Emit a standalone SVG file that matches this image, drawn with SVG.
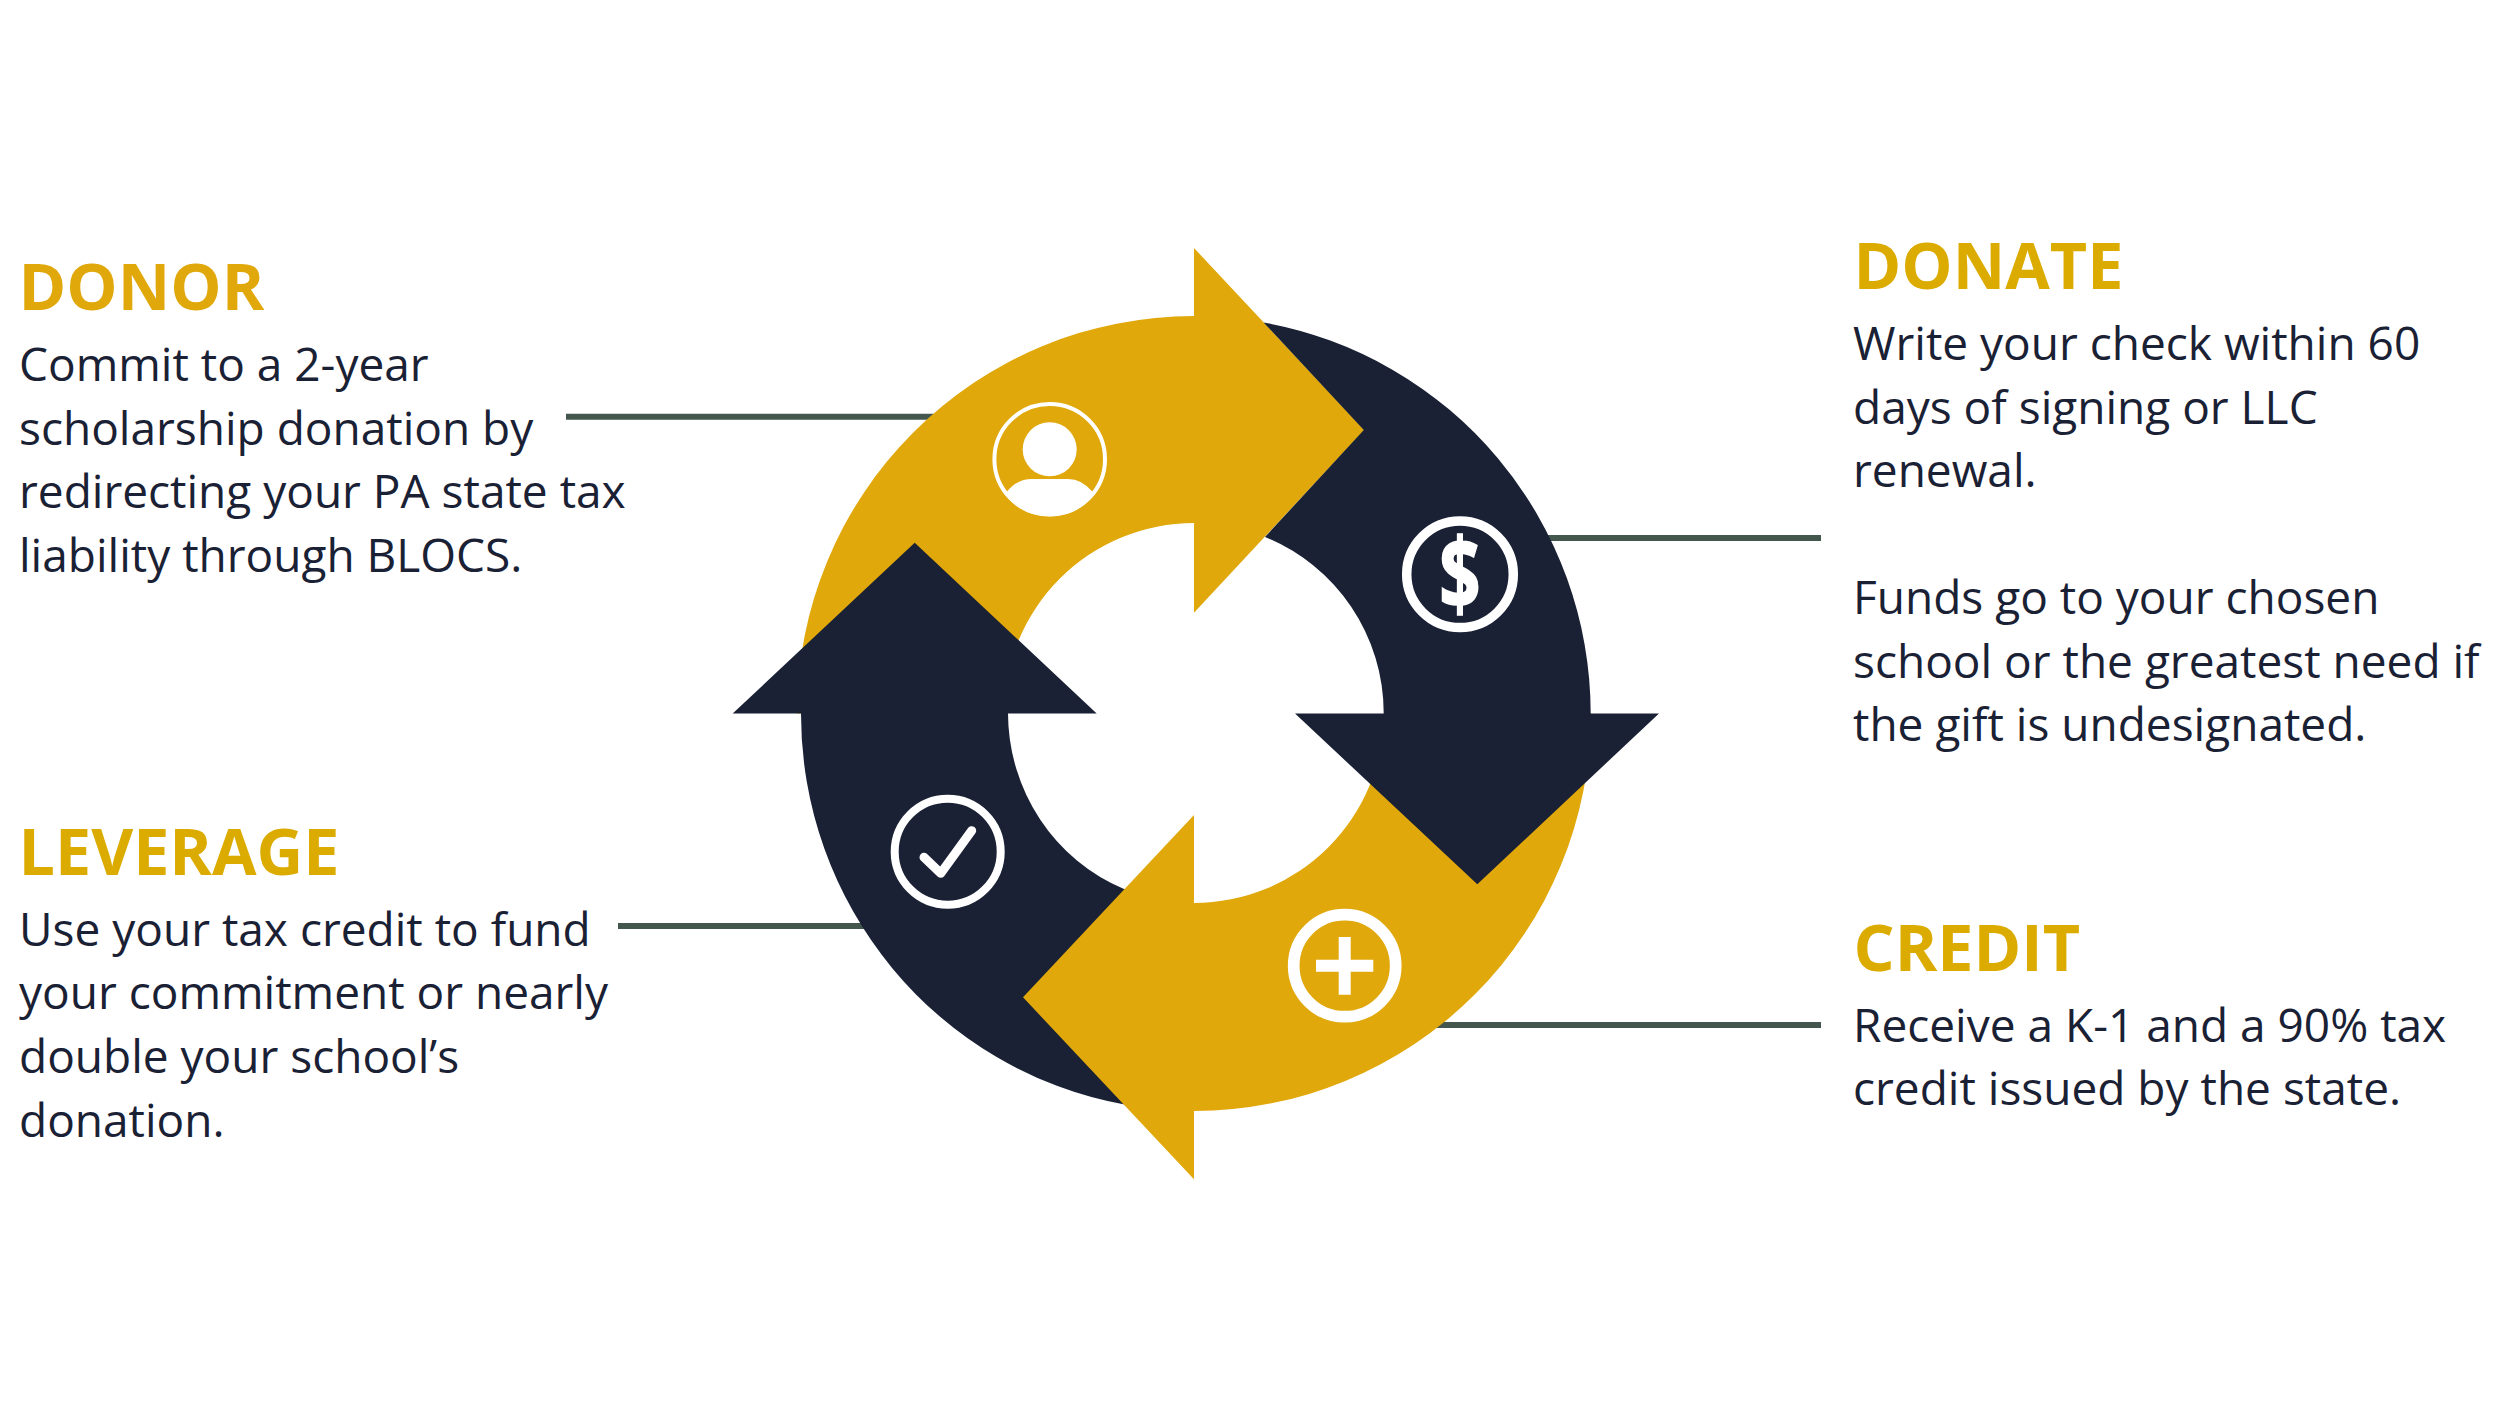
<svg xmlns="http://www.w3.org/2000/svg" width="2500" height="1406" viewBox="0 0 2500 1406">
<style>
.y{fill:#e1a80b}.n{fill:#1a2134}
.t{font-family:"Open Sans",sans-serif;font-weight:700;font-size:64.6px;fill:#dcab00}
.b{font-family:"Open Sans",sans-serif;font-size:46px;fill:#1a2134}
.l{stroke:#43574f;stroke-width:6;fill:none}
.r{fill:none;stroke:#fff}
</style>
<rect width="2500" height="1406" fill="#fff"/>
<g id="connectors">
<line class="l" x1="566" y1="416.7" x2="940" y2="416.7"/>
<line class="l" x1="1540" y1="538" x2="1821" y2="538"/>
<line class="l" x1="1430" y1="1025" x2="1821" y2="1025"/>
<line class="l" x1="618" y1="926" x2="875" y2="926"/>
</g>
<g id="arrows">
<path id="arrow-donor" class="y" d="M797 713.5A397 397.5 0 0 1 1194 316V248L1364.3 430L1194 612.7V523A190 190.5 0 0 0 1004 713.5Z"/>
<path id="arrow-leverage" class="n" d="M914.7 542.7L1096.7 713.5H1008A186 190.5 0 0 0 1124 889L1180 900V1110L1123.3 1104.3A393 397 0 0 1 801 713.5H732.7Z"/>
<path id="arrow-credit" class="y" d="M1591 713.5A397 397.5 0 0 1 1194 1111V1179.3L1023 997.3L1194 815V903A190 190 0 0 0 1384 713.5Z"/>
<path id="arrow-donate" class="n" d="M1263.6 322.5A397 397.5 0 0 1 1590.7 713.5H1659L1477.3 884.3L1295 713.5H1383.7A189.7 190 0 0 0 1265 537L1363.8 430Z"/>
</g>
<g id="donor">
<circle class="r" cx="1049.7" cy="459.3" r="55.3" stroke-width="4"/>
<circle cx="1049.7" cy="449.3" r="27" fill="#fff"/>
<path fill="#fff" d="M1006.7 492Q1017 479 1032 479H1068Q1082 479 1092.7 492L1095.7 493A57 57 0 0 1 1003.7 493Z"/>
<text class="t" style="fill:#e1a80b" x="18.5" y="310">DONOR</text>
<text class="b"><tspan x="19" y="381">Commit to a 2-year</tspan><tspan x="19" y="445">scholarship donation by</tspan><tspan x="19" y="508">redirecting your PA state tax</tspan><tspan x="19" y="572">liability through BLOCS.</tspan></text>
</g>
<g id="donate">
<circle class="r" cx="1460" cy="574.3" r="53.3" stroke-width="9.5"/>
<text transform="translate(1460 574) scale(.85 1.15)" x="0" y="30" text-anchor="middle" font-family="'Open Sans',sans-serif" font-weight="700" font-size="85" fill="#fff" stroke="#fff" stroke-width="1.5">$</text>
<text class="t" x="1853.5" y="289">DONATE</text>
<text class="b"><tspan x="1853" y="360">Write your check within 60</tspan><tspan x="1853" y="424">days of signing or LLC</tspan><tspan x="1853" y="487">renewal.</tspan><tspan x="1853" y="614">Funds go to your chosen</tspan><tspan x="1853" y="678">school or the greatest need if</tspan><tspan x="1853" y="741">the gift is undesignated.</tspan></text>
</g>
<g id="credit">
<circle class="r" cx="1344.7" cy="965.7" r="51" stroke-width="11.7"/>
<path fill="#fff" d="M1338.7 937H1350.7V959.7H1373.3V971.7H1350.7V994.7H1338.7V971.7H1316V959.7H1338.7Z"/>
<text class="t" x="1853.5" y="971">CREDIT</text>
<text class="b"><tspan x="1853" y="1042">Receive a K-1 and a 90% tax</tspan><tspan x="1853" y="1105">credit issued by the state.</tspan></text>
</g>
<g id="leverage">
<circle class="r" cx="947.7" cy="851.7" r="53" stroke-width="8"/>
<path fill="none" stroke="#fff" stroke-width="9" stroke-linecap="round" stroke-linejoin="round" d="M924 857.3L940.7 873.3L971.7 830.7"/>
<text class="t" x="18.5" y="875">LEVERAGE</text>
<text class="b"><tspan x="19" y="946">Use your tax credit to fund</tspan><tspan x="19" y="1009">your commitment or nearly</tspan><tspan x="19" y="1073">double your school’s</tspan><tspan x="19" y="1137">donation.</tspan></text>
</g>
</svg>
